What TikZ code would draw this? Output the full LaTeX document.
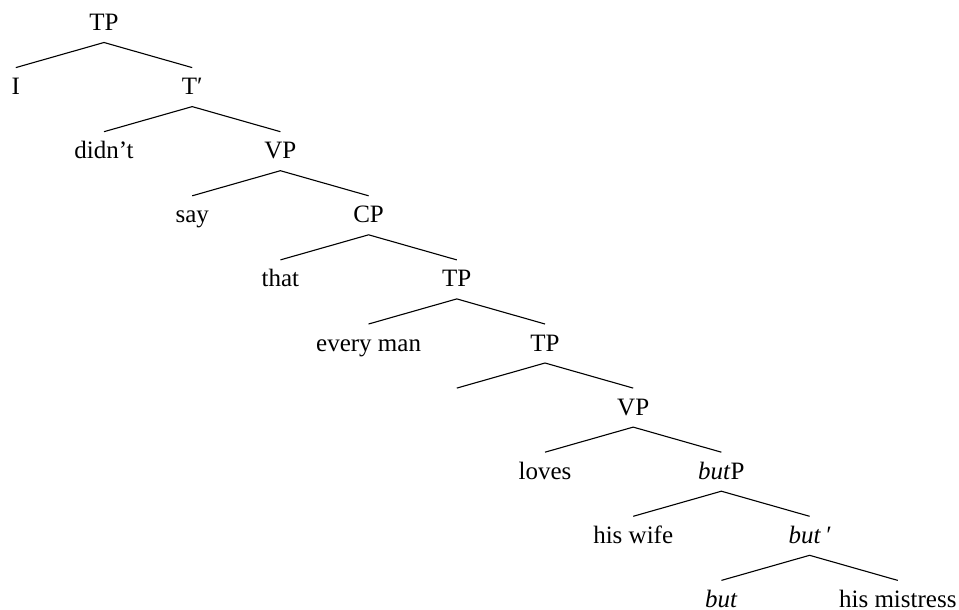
\documentclass[tikz,border=0pt]{standalone}
\usepackage{fontspec}
\setmainfont{Liberation Serif}
\begin{document}
\begin{tikzpicture}[x=1pt,y=-1pt,
  lbl/.style={anchor=base,inner sep=0pt,font=\fontsize{25}{30}\selectfont},
  br/.style={line width=1.1pt,line join=miter}]
\useasboundingbox (0,1.5) rectangle (959,611.5);
% spine
\node[lbl] (tp0) at (104,32) {TP};
\node[lbl] (tbar) at (192.2,96.1) {T′};
\node[lbl] (vp1) at (280.4,160.2) {VP};
\node[lbl] (cp) at (368.6,224.3) {CP};
\node[lbl] (tp1) at (456.8,288.4) {TP};
\node[lbl] (tp2) at (545,352.5) {TP};
\node[lbl] (vp2) at (633.2,416.6) {VP};
\node[lbl] (butp) at (721.4,480.7) {\textit{but}P};
\node[lbl] (butbar) at (809.6,544.8) {\textit{but\,′}};
\node[lbl] (mistress) at (897.8,608.9) {his mistress};
% left children
\node[lbl] (i) at (15.8,96.1) {I};
\node[lbl] (didnt) at (104,160.2) {didn’t};
\node[lbl] (say) at (192.2,224.3) {say};
\node[lbl] (that) at (280.4,288.4) {that};
\node[lbl] (everyman) at (368.6,352.5) {every man};
\node[lbl] (empty) at (456.8,416.6) {};
\node[lbl] (loves) at (545,480.7) {loves};
\node[lbl] (wife) at (633.2,544.8) {his wife};
\node[lbl] (but) at (721.4,608.9) {\textit{but}};
% branches
\foreach \p/\l/\r in {tp0/i/tbar, tbar/didnt/vp1, vp1/say/cp, cp/that/tp1,
  tp1/everyman/tp2, tp2/empty/vp2, vp2/loves/butp, butp/wife/butbar, butbar/but/mistress}
  \draw[br] ([yshift=27pt]\l.base) -- ([yshift=-12pt]\p.base) -- ([yshift=27pt]\r.base);
\end{tikzpicture}
\end{document}
